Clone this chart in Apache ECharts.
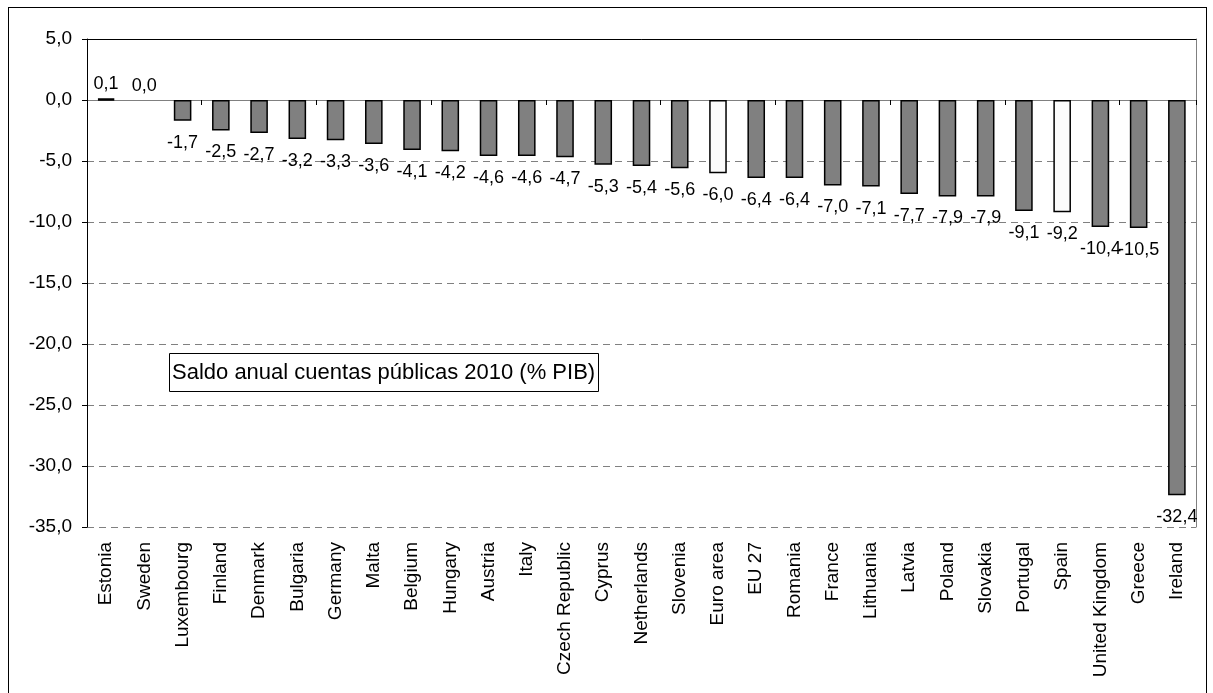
<!DOCTYPE html>
<html>
<head>
<meta charset="utf-8">
<script src="https://cdn.jsdelivr.net/npm/echarts@6/dist/echarts.min.js"></script>
<style>
  html, body { margin: 0; padding: 0; background: #fff; }
  #frame { position: absolute; left: 8px; top: 7px; width: 1199px; height: 700px; border: 1px solid #000; box-sizing: border-box; }
  #chart { position: absolute; left: 0; top: 0; width: 1213px; height: 693px; }
</style>
</head>
<body>
<div id="frame"></div>
<div id="chart"></div>
<script>
// Saldo anual de las cuentas públicas 2010, % del PIB
const countries = ['Estonia', 'Sweden', 'Luxembourg', 'Finland', 'Denmark', 'Bulgaria', 'Germany', 'Malta',
  'Belgium', 'Hungary', 'Austria', 'Italy', 'Czech Republic', 'Cyprus', 'Netherlands', 'Slovenia',
  'Euro area', 'EU 27', 'Romania', 'France', 'Lithuania', 'Latvia', 'Poland', 'Slovakia', 'Portugal',
  'Spain', 'United Kingdom', 'Greece', 'Ireland'];
const balance = [0.1, 0.0, -1.7, -2.5, -2.7, -3.2, -3.3, -3.6, -4.1, -4.2, -4.6, -4.6, -4.7, -5.3, -5.4, -5.6,
  -6.0, -6.4, -6.4, -7.0, -7.1, -7.7, -7.9, -7.9, -9.1, -9.2, -10.4, -10.5, -32.4];
// aggregates / highlighted entries drawn in white
const highlighted = ['Euro area', 'Spain'];
const yTicks = { min: -35, max: 5, step: 5 };

const fmt = v => v.toFixed(1).replace('.', ',');
const FONT = 'Liberation Sans, Arial, sans-serif';

const barData = balance.map((v, i) => {
  const name = countries[i];
  let color = '#808080';
  if (highlighted.includes(name)) color = '#fcfcfc';
  const item = {
    value: v,
    itemStyle: { color: color },
    label: { position: v >= 0 ? 'top' : 'bottom', distance: v >= 0 ? 5 : 13 }
  };
  // a surplus bar is so short that it shows as a solid black strip
  if (v > 0) item.itemStyle = { color: '#000', borderWidth: 2.5 };
  // a zero balance has no visible bar, only its label
  if (v === 0) item.itemStyle = { color: 'transparent', borderWidth: 0 };
  return item;
});

const chart = echarts.init(document.getElementById('chart'), null, { renderer: 'canvas' });
chart.setOption({
  animation: false,
  backgroundColor: 'transparent',
  title: {
    text: 'Saldo anual cuentas públicas 2010 (% PIB)',
    left: 169, top: 353,
    borderColor: '#000', borderWidth: 1,
    padding: [7, 4, 7, 3],
    textStyle: { fontFamily: FONT, fontSize: 22, fontWeight: 'normal', color: '#000', lineHeight: 25 }
  },
  grid: { left: 87, right: 17, top: 39, bottom: 166, containLabel: false },
  xAxis: [
    {
      type: 'category', data: countries, position: 'bottom',
      axisLine: { show: false, onZero: false },
      axisTick: { show: false },
      axisLabel: { rotate: 90, interval: 0, margin: 15, fontFamily: FONT, fontSize: 19, color: '#000' },
      splitLine: { show: false }
    },
    {
      type: 'category', data: countries, position: 'bottom',
      axisLine: { show: true, onZero: true, lineStyle: { color: '#808080', width: 1 } },
      axisTick: { show: true, length: 5, lineStyle: { color: '#000' } },
      axisLabel: { show: false }
    },
    {
      type: 'category', data: countries, position: 'top',
      axisLine: { show: true, onZero: false, lineStyle: { color: '#000', width: 1 } },
      axisTick: { show: false }, axisLabel: { show: false }
    }
  ],
  yAxis: [
    {
      type: 'value', min: yTicks.min, max: yTicks.max, interval: yTicks.step,
      axisLine: { show: true, lineStyle: { color: '#000' } },
      axisTick: { show: true, length: 5, lineStyle: { color: '#000' } },
      axisLabel: { margin: 15, fontFamily: FONT, fontSize: 19, color: '#000', formatter: v => fmt(v) },
      splitLine: { show: true, lineStyle: { color: '#808080', type: [7, 5], width: 1 } }
    },
    {
      type: 'value', min: yTicks.min, max: yTicks.max, interval: yTicks.step, position: 'right',
      axisLine: { show: true, lineStyle: { color: '#808080' } },
      axisTick: { show: false }, axisLabel: { show: false }, splitLine: { show: false }
    }
  ],
  series: [{
    type: 'bar', xAxisIndex: 0, yAxisIndex: 0,
    data: barData,
    barWidth: '46%',
    itemStyle: { borderColor: '#000', borderWidth: 1.5 },
    label: {
      show: true, fontFamily: FONT, fontSize: 18, color: '#000',
      formatter: p => fmt(p.value)
    }
  }]
});
</script>
</body>
</html>
